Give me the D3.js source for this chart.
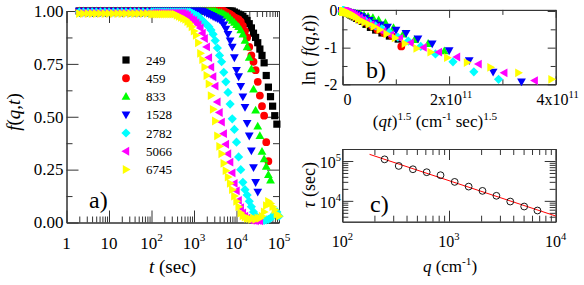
<!DOCTYPE html>
<html>
<head>
<meta charset="utf-8">
<script src="https://cdn.jsdelivr.net/npm/d3@7"></script>
<style>
body { margin: 0; background: #fff; }
svg { font-family: "Liberation Serif", "Times New Roman", serif; }
.ax .domain, .ax line { stroke: #333; stroke-width: 1; }
</style>
</head>
<body>
<svg id="fig" width="584" height="285"></svg>
<script>
// ---- data ----
var qValues = [249, 459, 833, 1528, 2782, 5066, 6745];
var seriesColors = ["#000000", "#ff0000", "#00ff00", "#0000ff", "#00ffff", "#ff00ff", "#ffff00"];
var seriesSymbols = ["square", "circle", "up", "down", "diamond", "left", "right"];

// common time grid (sec)
var tGrid = [2, 2.5, 3.2, 4, 5, 6.3, 8, 10, 12.6, 16, 20, 25, 32, 40, 50, 63, 80,
  100, 112, 126, 141, 158, 178, 200, 224, 251, 282, 316, 355, 398, 447, 501, 562, 631, 708, 794, 891,
  1000, 1122, 1259, 1413, 1585, 1778, 1995, 2239, 2512, 2818, 3162, 3548, 3981, 4467, 5012, 5623, 6310, 7079, 7943, 8913,
  10000, 11220, 12590, 14130, 15850, 17780, 19950, 22390, 25120, 28180, 31620, 35480, 39810, 44670, 50120, 56230, 63100, 70790, 79430, 89130, 100000];

var f249 = [1, 1, 1, 1, 1, 1, 1, 1, 1, 1, 1, 1, 1, 1, 1, 1, 1,
  1, 1, 1, 1, 1, 1, 1, 1, 1, 1, 1, 1, 1, 1, 1, 1, 1, 1, 1, 1,
  1, 1, 1, 1, 1, 1, 1, 1, 1, 1, 1, 1, 1, 1, 1, 1, 1, 1, 1, 0.995,
  0.99, 0.985, 0.98, 0.975, 0.965, 0.955, 0.94, 0.92, 0.895, 0.875, 0.85, 0.82, 0.79, 0.755, 0.695, 0.64, 0.595, 0.55, 0.505, 0.465, null];
var f459 = [1, 1, 1, 1, 1, 1, 1, 1, 1, 1, 1, 1, 1, 1, 1, 1, 1,
  1, 1, 1, 1, 1, 1, 1, 1, 1, 1, 1, 1, 1, 1, 1, 1, 1, 1, 1, 1,
  1, 1, 1, 1, 1, 1, 1, 1, 1, 1, 1, 1, 1, 1, 1, 0.995, 0.99, 0.985, 0.978, 0.97,
  0.965, 0.96, 0.95, 0.93, 0.905, 0.875, 0.83, 0.79, 0.76, 0.72, 0.665, 0.6, 0.55, 0.505, 0.38, 0.29, null, null, null, null, null];
var f833 = [1, 1, 1, 1, 1, 1, 1, 1, 1, 1, 1, 1, 1, 1, 1, 1, 1,
  1, 1, 1, 1, 1, 1, 1, 1, 1, 1, 1, 1, 1, 1, 1, 1, 1, 1, 1, 1,
  1, 1, 1, 1, 1, 1, 1, 1, 1, 1, 1, 0.995, 0.993, 0.99, 0.985, 0.98, 0.975, 0.965, 0.955, 0.945,
  0.935, 0.925, 0.91, 0.89, 0.86, 0.83, 0.78, 0.725, 0.63, 0.53, 0.455, 0.41, 0.335, 0.3, 0.265, 0.225, 0.2, null, null, null, null];
var f1528 = [1, 1, 1, 1, 1, 1, 1, 1, 1, 1, 1, 1, 1, 1, 1, 1, 1,
  1, 1, 1, 1, 1, 1, 1, 1, 1, 1, 1, 1, 1, 1, 1, 1, 1, 1, 1, 1,
  1, 1, 1, 1, 1, 0.995, 0.99, 0.985, 0.98, 0.975, 0.97, 0.965, 0.96, 0.95, 0.935, 0.915, 0.89, 0.86, 0.83, 0.78,
  0.72, 0.69, 0.645, 0.595, 0.545, 0.47, 0.41, 0.34, 0.26, 0.19, 0.145, null, null, null, null, null, null, null, null, null, null];
var f2782 = [0.995, 0.995, 0.995, 0.995, 0.995, 0.995, 0.995, 0.995, 0.995, 0.995, 0.995, 0.995, 0.995, 0.995, 0.995, 0.995, 0.995,
  0.995, 0.995, 0.995, 0.995, 0.995, 0.995, 0.995, 0.995, 0.995, 0.995, 0.995, 0.995, 0.995, 0.995, 0.995, 0.995, 0.995, 0.995, 0.995, 0.99,
  0.985, 0.98, 0.975, 0.965, 0.955, 0.945, 0.935, 0.925, 0.91, 0.89, 0.86, 0.825, 0.79, 0.76, 0.71, 0.665, 0.615, 0.56, 0.49, 0.44,
  0.38, 0.31, 0.25, 0.19, 0.155, 0.13, 0.1, 0.075, 0.05, 0.032, 0.022, 0.015, 0.012, 0.01, 0.012, 0.015, 0.02, 0.03, 0.04, 0.05, 0.03];
var f5066 = [0.99, 0.99, 0.99, 0.99, 0.99, 0.99, 0.99, 0.99, 0.99, 0.99, 0.99, 0.99, 0.99, 0.99, 0.99, 0.99, 0.99,
  0.99, 0.99, 0.99, 0.99, 0.99, 0.99, 0.99, 0.99, 0.99, 0.99, 0.99, 0.99, 0.99, 0.99, 0.99, 0.99, 0.985, 0.98, 0.97, 0.96,
  0.955, 0.945, 0.935, 0.92, 0.895, 0.87, 0.83, 0.78, 0.735, 0.69, 0.645, 0.57, 0.52, 0.475, 0.42, 0.37, 0.325, 0.285, 0.235, 0.185,
  0.15, 0.105, 0.07, 0.045, 0.03, 0.02, 0.012, 0.01, 0.01, 0.008, 0.01, 0.008, null, null, null, null, null, null, null, null, null];
var f6745 = [0.988, 0.988, 0.988, 0.988, 0.988, 0.988, 0.988, 0.988, 0.988, 0.988, 0.988, 0.988, 0.988, 0.988, 0.988, 0.988, 0.988,
  0.985, 0.985, 0.985, 0.985, 0.985, 0.985, 0.985, 0.985, 0.985, 0.985, 0.985, 0.985, 0.98, 0.975, 0.97, 0.965, 0.96, 0.95, 0.94, 0.925,
  0.905, 0.885, 0.85, 0.8, 0.77, 0.735, 0.695, 0.655, 0.6, 0.535, 0.48, 0.41, 0.36, 0.325, 0.28, 0.245, 0.215, 0.185, 0.155, 0.125,
  0.1, 0.075, 0.045, 0.032, 0.026, 0.02, 0.018, 0.015, 0.02, 0.015, 0.02, 0.02, 0.03, 0.05, 0.08, 0.1, 0.09, 0.075, 0.06, 0.04, 0.03];
var fSeries = [f249, f459, f833, f1528, f2782, f5066, f6745];

// lowest f of each series kept in the ln f vs (qt)^1.5 plot
var bMinF = [0.4, 0.37, 0.335, 0.14, 0.15, 0.13, 0.15];

// relaxation time vs q
var tauQ = [249, 338, 459, 618, 833, 1130, 1528, 2060, 2782, 3750, 5066, 6745];
var tauSec = [110000, 75200, 62100, 52300, 44000, 29900, 22800, 17800, 13400, 9620, 7210, 5730];
var fitQ = [180, 10000];
var fitTau = [147000, 4170];

var xLabelsA = ["1", "10", "10^2", "10^3", "10^4", "10^5"];
var yLabelsA = ["0.00", "0.25", "0.50", "0.75", "1.00"];
var xLabelsB = ["0", "2x10^11", "4x10^11"];
var yLabelsB = ["0", "-1", "-2"];
var xLabelsC = ["10^2", "10^3", "10^4"];
var yLabelsC = ["10^4", "10^5"];

// ---- helpers ----
var svg = d3.select("#fig");

function symbolPath(type) {
  switch (type) {
    case "square": return "M-3.6,-3.6H3.6V3.6H-3.6Z";
    case "circle": return d3.symbol(d3.symbolCircle, Math.PI * 3.9 * 3.9)();
    case "up": return "M0,-4.6L4.4,3.2L-4.4,3.2Z";
    case "down": return "M0,4.6L4.4,-3.2L-4.4,-3.2Z";
    case "left": return "M-4.6,0L3.2,-4.4L3.2,4.4Z";
    case "right": return "M4.6,0L-3.2,-4.4L-3.2,4.4Z";
    case "diamond": return "M0,-4.6L4.6,0L0,4.6L-4.6,0Z";
  }
}

function parseLabel(s) {
  var i = s.indexOf("^");
  if (i < 0) return [{t: s}];
  return [{t: s.slice(0, i)}, {t: s.slice(i + 1), sup: true}];
}

function rich(parent, x, y, size, anchor, parts, rotate) {
  var t = parent.append("text").attr("x", x).attr("y", y)
    .attr("font-size", size).attr("text-anchor", anchor).attr("fill", "#000");
  if (rotate) t.attr("transform", "rotate(-90," + x + "," + y + ")");
  var shift = 0;
  parts.forEach(function(p) {
    var s = t.append("tspan").text(p.t);
    var target = p.sup ? -0.42 * size : 0;
    if (target !== shift) { s.attr("dy", target - shift); shift = target; }
    if (p.sup) s.attr("font-size", size * 0.66);
    if (p.it) s.attr("font-style", "italic");
  });
  return t;
}

// four inward-ticked sides
function frame(x, y, xMaj, xMin, yMaj, yMin, lMaj, lMin) {
  var g = svg.append("g").attr("class", "ax");
  var xr = x.range(), yr = y.range();
  var sides = [
    [d3.axisBottom, x, "translate(0," + yr[0] + ")", xMaj, xMin],
    [d3.axisTop, x, "translate(0," + yr[1] + ")", xMaj, xMin],
    [d3.axisLeft, y, "translate(" + xr[0] + ",0)", yMaj, yMin],
    [d3.axisRight, y, "translate(" + xr[1] + ",0)", yMaj, yMin]
  ];
  sides.forEach(function(s) {
    g.append("g").attr("transform", s[2])
      .call(s[0](s[1]).tickValues(s[4]).tickSize(-lMin).tickSizeOuter(0).tickFormat(""));
    g.append("g").attr("transform", s[2])
      .call(s[0](s[1]).tickValues(s[3]).tickSize(-lMaj).tickSizeOuter(0).tickFormat(""));
  });
  return g;
}

function logMinors(lo, hi) {
  var out = [];
  for (var d = lo; d < hi; d *= 10)
    for (var m = 2; m <= 9; m++) out.push(d * m);
  return out;
}

// ---- panel a ----
var xA = d3.scaleLog().domain([1, 1e5]).range([66.5, 279]);
var yA = d3.scaleLinear().domain([0, 1]).range([222.5, 11]);
var decadesA = [1, 10, 100, 1e3, 1e4, 1e5];

frame(xA, yA, decadesA, logMinors(1, 1e5), [0, 0.25, 0.5, 0.75, 1],
  [0.125, 0.375, 0.625, 0.875], 12, 6);

var gA = svg.append("g");
fSeries.forEach(function(fs, i) {
  var pts = tGrid.map(function(t, j) { return [t, fs[j]]; })
    .filter(function(d) { return d[1] !== null; });
  gA.append("g").selectAll("path").data(pts).enter().append("path")
    .attr("d", symbolPath(seriesSymbols[i]))
    .attr("transform", function(d) { return "translate(" + xA(d[0]) + "," + yA(d[1]) + ")"; })
    .attr("fill", seriesColors[i]);
});

decadesA.forEach(function(v, i) {
  rich(svg, xA(v), 248.5, 17, "middle", parseLabel(xLabelsA[i]));
});
[0, 0.25, 0.5, 0.75, 1].forEach(function(v, i) {
  rich(svg, 63.5, yA(v) + 5.8, 17, "end", parseLabel(yLabelsA[i]));
});
rich(svg, 172.5, 273, 19, "middle", [{t: "t", it: true}, {t: " (sec)"}]);
rich(svg, 20, 112, 19, "middle", [{t: "f", it: true}, {t: "("}, {t: "q", it: true}, {t: ","}, {t: "t", it: true}, {t: ")"}], true);
rich(svg, 89, 208, 24, "start", [{t: "a)"}]);

// legend
var legend = svg.append("g");
qValues.forEach(function(q, i) {
  var ly = 60 + i * 18.25;
  legend.append("path").attr("d", symbolPath(seriesSymbols[i]))
    .attr("transform", "translate(126," + ly + ")").attr("fill", seriesColors[i]);
  legend.append("text").attr("x", 146).attr("y", ly + 4.5).attr("font-size", 13).text(q);
});

// ---- panel b ----
var xB = d3.scaleLinear().domain([0, 4e11]).range([342.5, 555.7]);
var yB = d3.scaleLinear().domain([-2, 0.03]).range([84.3, 9.9]);

frame(xB, yB, [0, 2e11, 4e11], [1e11, 3e11], [-2, -1, 0], [-1.5, -0.5], 8, 5);

var gB = svg.append("g");
fSeries.forEach(function(fs, i) {
  var pts = [];
  tGrid.forEach(function(t, j) {
    var f = fs[j];
    if (f === null || f < bMinF[i]) return;
    var u = Math.pow(qValues[i] * t, 1.5), v = Math.log(f);
    if (u <= 4e11 && v >= -2) pts.push([u, v]);
  });
  gB.append("g").selectAll("path").data(pts).enter().append("path")
    .attr("d", symbolPath(seriesSymbols[i]))
    .attr("transform", function(d) { return "translate(" + xB(d[0]) + "," + yB(d[1]) + ")"; })
    .attr("fill", seriesColors[i]);
});

[0, 2e11, 4e11].forEach(function(v, i) {
  rich(svg, xB(v) + (i === 0 ? 5 : 2), 104.5, 16, "middle", parseLabel(xLabelsB[i]));
});
[0, -1, -2].forEach(function(v, i) {
  rich(svg, 337.5, yB(v) + 5.3, 16, "end", parseLabel(yLabelsB[i]));
});
rich(svg, 435, 127, 17, "middle", [{t: "("}, {t: "qt", it: true}, {t: ")"}, {t: "1.5", sup: true},
  {t: " (cm"}, {t: "-1", sup: true}, {t: " sec)"}, {t: "1.5", sup: true}]);
rich(svg, 315, 50, 18, "middle", [{t: "ln ( "}, {t: "f", it: true}, {t: "("}, {t: "q", it: true}, {t: ","},
  {t: "t", it: true}, {t: "))"}], true);
rich(svg, 366, 78, 24, "start", [{t: "b)"}]);

// ---- panel c ----
var xC = d3.scaleLog().domain([100, 1e4]).range([342.3, 555.7]);
var yC = d3.scaleLog().domain([3000, 2e5]).range([221.7, 149]);

frame(xC, yC, [100, 1e3, 1e4], logMinors(100, 1e4), [1e4, 1e5],
  [4000, 5000, 6000, 7000, 8000, 9000].concat(logMinors(1e4, 1e5)).concat([2e5]), 11, 6);

var gC = svg.append("g");
gC.append("path")
  .datum(fitQ.map(function(q, i) { return [q, fitTau[i]]; }))
  .attr("d", d3.line().x(function(d) { return xC(d[0]); }).y(function(d) { return yC(d[1]); }))
  .attr("stroke", "#ff0000").attr("stroke-width", 1).attr("fill", "none");
gC.selectAll("circle").data(tauQ).enter().append("circle")
  .attr("cx", function(d) { return xC(d); })
  .attr("cy", function(d, i) { return yC(tauSec[i]); })
  .attr("r", 3.4).attr("fill", "none").attr("stroke", "#000").attr("stroke-width", 0.9);

[100, 1e3, 1e4].forEach(function(v, i) {
  rich(svg, xC(v), 246.7, 16, "middle", parseLabel(xLabelsC[i]));
});
[1e4, 1e5].forEach(function(v, i) {
  rich(svg, 341, yC(v) + 7, 16, "end", parseLabel(yLabelsC[i]));
});
rich(svg, 450, 272, 17, "middle", [{t: "q", it: true}, {t: " (cm"}, {t: "-1", sup: true}, {t: ")"}]);
rich(svg, 315, 185, 18, "middle", [{t: "\u03c4", it: true}, {t: " (sec)"}], true);
rich(svg, 370, 212, 24, "start", [{t: "c)"}]);
</script>
</body>
</html>
